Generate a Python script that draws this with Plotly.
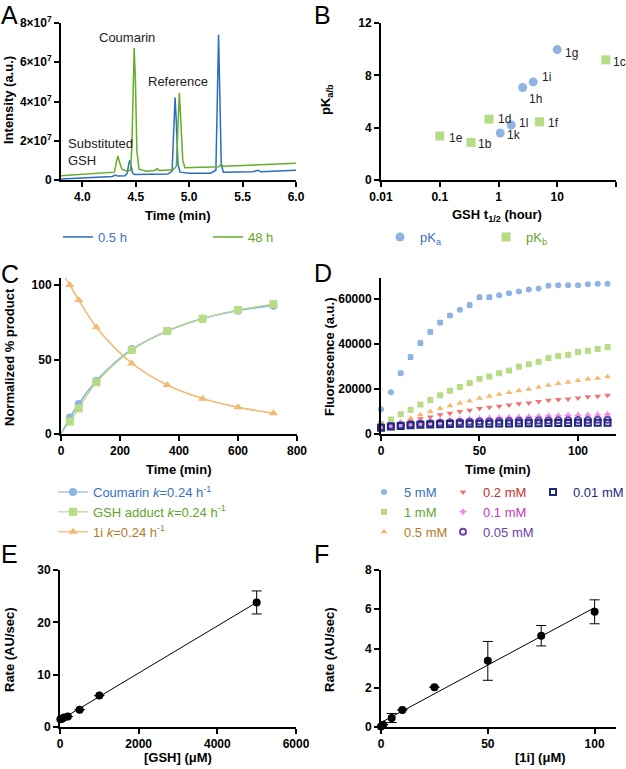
import numpy as np
import plotly.graph_objects as go

W, H = 626, 769
FONT = "Liberation Sans, Arial, sans-serif"

# ---------------- DATA ----------------
# Panel A: chromatograms (time in min, intensity in a.u.)
a_time_05h = [3.80, 4.00, 4.20, 4.28, 4.31, 4.33, 4.40, 4.42, 4.435, 4.445, 4.455, 4.47, 4.49, 4.60, 4.80, 4.84,
              4.855, 4.868, 4.88, 4.895, 4.915, 5.00, 5.20, 5.25, 5.263, 5.275, 5.287, 5.30, 5.32, 5.60, 5.64, 5.67, 6.00]
a_int_05h = [0.05e7, 0.10e7, 0.15e7, 0.18e7, 0.25e7, 0.20e7, 0.22e7, 0.35e7, 0.85e7, 1.00e7, 0.75e7, 0.35e7, 0.28e7,
             0.28e7, 0.30e7, 0.45e7, 2.6e7, 4.2e7, 2.9e7, 0.8e7, 0.40e7, 0.35e7, 0.35e7, 0.50e7, 4.0e7, 7.4e7, 4.3e7,
             0.8e7, 0.40e7, 0.42e7, 0.50e7, 0.42e7, 0.50e7]
a_time_48h = [3.80, 4.00, 4.20, 4.30, 4.318, 4.333, 4.348, 4.37, 4.42, 4.45, 4.463, 4.475, 4.485, 4.497, 4.51, 4.53,
              4.60, 4.68, 4.70, 4.72, 4.85, 4.88, 4.895, 4.908, 4.922, 4.94, 4.96, 5.20, 5.28, 5.30, 5.32, 6.00]
a_int_48h = [0.22e7, 0.28e7, 0.34e7, 0.40e7, 0.90e7, 1.22e7, 0.90e7, 0.55e7, 0.45e7, 0.50e7, 1.6e7, 4.6e7, 6.73e7,
             5.0e7, 1.5e7, 0.55e7, 0.45e7, 0.48e7, 0.58e7, 0.48e7, 0.52e7, 0.70e7, 2.8e7, 4.44e7, 3.0e7, 1.0e7,
             0.62e7, 0.65e7, 0.68e7, 0.80e7, 0.70e7, 0.85e7]
a_peak_labels = ["Coumarin", "Reference", "1i", "Substituted<br>GSH"]
a_peak_label_x = [4.418, 4.895, 5.288, 3.847]
a_peak_label_y = [7.24e7, 5.04e7, 8.05e7, 1.43e7]
a_ytick_vals = [0, 2e7, 4e7, 6e7, 8e7]
a_ytick_text = ["0", "2×10<sup>7</sup>", "4×10<sup>7</sup>", "6×10<sup>7</sup>", "8×10<sup>7</sup>"]

# Panel B: GSH half-life (hour) vs pKa / pKb
b_pka_names = ["1g", "1i", "1h", "1l", "1k"]
b_pka_t12 = [10.0, 3.9, 2.58, 1.65, 1.07]
b_pka_val = [9.97, 7.5, 7.07, 4.2, 3.59]
b_pkb_names = ["1c", "1f", "1d", "1e", "1b"]
b_pkb_t12 = [67.0, 5.0, 0.69, 0.10, 0.34]
b_pkb_val = [9.18, 4.45, 4.65, 3.36, 2.87]

# Panel C: normalized % product vs time (min)
c_time = [30, 60, 120, 240, 360, 480, 600, 720]
c_coumarin = [11.0, 20.1, 35.8, 57.0, 69.1, 77.4, 82.8, 86.1]
c_adduct = [8.3, 17.2, 34.7, 56.4, 69.1, 77.4, 83.2, 87.2]
c_1i = [100.0, 90.0, 71.6, 47.4, 32.9, 23.7, 17.9, 13.9]
# fitted curves
c_fit_time = [0, 30, 60, 120, 240, 360, 480, 600, 720]
c_fit_coumarin = [0.0, 11.2, 20.5, 35.8, 56.6, 69.0, 77.4, 82.9, 86.3]
c_fit_adduct = [0.0, 9.0, 17.8, 34.6, 56.2, 69.2, 77.6, 83.2, 86.8]
c_fit_1i_time = [13, 30, 60, 120, 240, 360, 480, 600, 720]
c_fit_1i = [105.0, 100.0, 89.8, 71.8, 47.6, 32.8, 23.8, 18.0, 14.0]

# Panel D: fluorescence vs time for GSH concentrations
d_time = [0, 5, 10, 15, 20, 25, 30, 35, 40, 45, 50, 55, 60, 65, 70, 75, 80, 85, 90, 95, 100, 105, 110, 115]
d_5mM = [11000, 18600, 27000, 34200, 40400, 45400, 49500, 52600, 55200, 57200, 60700, 60700, 61600, 62500,
         63300, 64200, 64600, 65900, 66100, 66100, 66100, 66500, 66800, 66700]
d_5mM_err = [0, 0, 800, 900, 900, 900, 900, 800, 300, 900, 900, 900, 300, 300, 300, 300, 300, 300, 300, 300,
             300, 300, 300, 300]
d_1mM = [4500, 6500, 8800, 10700, 13100, 15100, 17200, 19200, 20900, 22600, 24500, 25500, 27000, 28200, 29900,
         31000, 32100, 33700, 34600, 35200, 36400, 37000, 37700, 38600]
d_1mM_err = [0, 0, 0, 0, 0, 0, 0, 0, 0, 0, 300, 300, 300, 300, 300, 300, 800, 300, 300, 800, 900, 900, 900, 1000]
d_05mM = [3300, 4000, 5500, 7000, 8500, 10000, 11300, 12600, 13700, 14700, 15900, 16800, 17700, 18400, 19200,
          19900, 20800, 21700, 22400, 23000, 23800, 24400, 24800, 25400]
d_02mM = [3000, 3600, 4800, 5800, 6800, 7600, 8500, 9200, 10000, 10500, 11300, 11900, 12300, 12900, 13400,
          13800, 14400, 15000, 15300, 15600, 16000, 16500, 16800, 17200]
d_01mM = [3000, 3600, 4200, 4700, 5100, 5500, 5800, 6100, 6300, 6600, 6800, 7000, 7200, 7400, 7500, 7700,
          7800, 8000, 8100, 8200, 8300, 8400, 8500, 8700]
d_005mM = [3000, 3500, 3900, 4300, 4600, 4800, 5000, 5100, 5300, 5400, 5500, 5600, 5700, 5800, 5900, 5900,
           6000, 6000, 6100, 6100, 6200, 6200, 6300, 6300]
d_001mM = [2800, 3300, 3600, 3900, 4100, 4200, 4300, 4400, 4500, 4500, 4600, 4600, 4700, 4700, 4800, 4800,
           4800, 4900, 4900, 4900, 5000, 5000, 5000, 5000]

# Panel E: rate vs [GSH] (uM)
e_gsh = [10, 50, 100, 200, 500, 1000, 5000]
e_rate = [1.5, 1.6, 1.8, 2.0, 3.3, 6.0, 23.8]
e_err = [0, 0, 0, 0, 0, 0, 2.2]

# Panel F: rate vs [1i] (uM)
f_conc = [0, 1, 5, 10, 25, 50, 75, 100]
f_rate = [0.03, 0.12, 0.46, 0.87, 2.03, 3.37, 4.65, 5.87]
f_err = [0, 0, 0.23, 0, 0, 0.99, 0.52, 0.61]

# ---------------- STYLES ----------------
BLUE_DK = "#2b6dc0"
GREEN_DK = "#66ad2a"
BLUE_LT = "#8fb4e3"
GREEN_LT = "#b6dd86"
ORANGE_LT = "#f4b870"
RED_LT = "#f07272"
PINK_LT = "#f08ce8"
PURPLE = "#6f45b2"
NAVY = "#1f2a7c"
TXT_BLUE = "#3a70c0"
TXT_GREEN = "#5fa52a"
TXT_BROWN = "#b57a25"
TXT_RED = "#cc2c2c"
TXT_MAG = "#c23ac2"
TXT_PURPLE = "#6a3fae"
TXT_NAVY = "#1f2a80"


def col(c, s):
    return f'<span style="color:{c}">{s}</span>'


fig = go.Figure()


def dom_x(a, b):
    return [a / W, b / W]


def dom_y(top, bottom):
    return [1 - bottom / H, 1 - top / H]


def axis(**kw):
    base = dict(showline=True, linecolor="black", linewidth=2, ticks="outside", ticklen=5, tickwidth=2,
                tickcolor="black", showgrid=False, zeroline=False, mirror=False, automargin=False,
                tickfont=dict(family=FONT, size=12, color="black", weight="bold"))
    base.update(kw)
    return base


# ----- Panel A -----
fig.add_trace(go.Scatter(x=a_time_05h, y=a_int_05h, mode="lines", line=dict(color=BLUE_DK, width=1.5),
                         name=col(TXT_BLUE, "0.5 h"), legend="legend", xaxis="x", yaxis="y"))
fig.add_trace(go.Scatter(x=a_time_48h, y=a_int_48h, mode="lines", line=dict(color=GREEN_DK, width=1.5),
                         name=col(TXT_GREEN, "48 h"), legend="legend2", xaxis="x", yaxis="y"))

# ----- Panel B -----
fig.add_trace(go.Scatter(x=b_pka_t12, y=b_pka_val, mode="markers",
                         marker=dict(symbol="circle", size=9, color=BLUE_LT),
                         name=col(TXT_BLUE, "pK<sub>a</sub>"), legend="legend3", xaxis="x2", yaxis="y2"))
fig.add_trace(go.Scatter(x=b_pkb_t12, y=b_pkb_val, mode="markers",
                         marker=dict(symbol="square", size=9, color=GREEN_LT),
                         name=col(TXT_GREEN, "pK<sub>b</sub>"), legend="legend4", xaxis="x2", yaxis="y2"))

# ----- Panel C -----
fig.add_trace(go.Scatter(x=c_fit_1i_time, y=c_fit_1i, mode="lines", line=dict(color=ORANGE_LT, width=1.2, shape="spline"),
                         showlegend=False, xaxis="x3", yaxis="y3", cliponaxis=False))
fig.add_trace(go.Scatter(x=c_fit_time, y=c_fit_adduct, mode="lines", line=dict(color=GREEN_LT, width=1.2, shape="spline"),
                         showlegend=False, xaxis="x3", yaxis="y3"))
fig.add_trace(go.Scatter(x=c_fit_time, y=c_fit_coumarin, mode="lines", line=dict(color=BLUE_LT, width=1.2, shape="spline"),
                         showlegend=False, xaxis="x3", yaxis="y3"))
fig.add_trace(go.Scatter(x=c_time, y=c_coumarin, mode="lines+markers",
                         line=dict(color=BLUE_LT, width=1.2, shape="spline"),
                         marker=dict(symbol="circle", size=8, color=BLUE_LT),
                         name=col(TXT_BLUE, "Coumarin <i>k</i>=0.24 h<sup>-1</sup>"), legend="legend5",
                         xaxis="x3", yaxis="y3"))
fig.add_trace(go.Scatter(x=c_time, y=c_adduct, mode="lines+markers",
                         line=dict(color=GREEN_LT, width=1.2, shape="spline"),
                         marker=dict(symbol="square", size=8, color=GREEN_LT),
                         name=col(TXT_GREEN, "GSH adduct <i>k</i>=0.24 h<sup>-1</sup>"), legend="legend5",
                         xaxis="x3", yaxis="y3"))
fig.add_trace(go.Scatter(x=c_time, y=c_1i, mode="lines+markers",
                         line=dict(color=ORANGE_LT, width=1.2, shape="spline"),
                         marker=dict(symbol="triangle-up", size=8, color=ORANGE_LT),
                         name=col(TXT_BROWN, "1i <i>k</i>=0.24 h<sup>-1</sup>"), legend="legend5",
                         xaxis="x3", yaxis="y3"))

# ----- Panel D -----
d_series = [
    (d_5mM, d_5mM_err, "circle", BLUE_LT, "#4a78c8", TXT_BLUE, "5 mM", "legend6"),
    (d_1mM, d_1mM_err, "square", GREEN_LT, "#6aa83a", TXT_GREEN, "1 mM", "legend6"),
    (d_05mM, None, "triangle-up", ORANGE_LT, ORANGE_LT, TXT_BROWN, "0.5 mM", "legend6"),
    (d_02mM, None, "triangle-down", RED_LT, RED_LT, TXT_RED, "0.2 mM", "legend7"),
    (d_01mM, None, "star-diamond", PINK_LT, PINK_LT, TXT_MAG, "0.1 mM", "legend7"),
    (d_005mM, None, "circle-open", PURPLE, PURPLE, TXT_PURPLE, "0.05 mM", "legend7"),
    (d_001mM, None, "square-open", NAVY, NAVY, TXT_NAVY, "0.01 mM", "legend8"),
]
for vals, err, sym, mc, ec, tc, nm, lg in d_series:
    mk = dict(symbol=sym, size=6, color=mc)
    if sym.endswith("open"):
        mk["line"] = dict(width=2, color=mc)
    tr = dict(x=d_time, y=vals, mode="markers", marker=mk, name=col(tc, nm), legend=lg,
              xaxis="x4", yaxis="y4", cliponaxis=False)
    if err is not None:
        tr["error_y"] = dict(type="data", array=err, color=ec, thickness=1.2, width=2.5)
    fig.add_trace(go.Scatter(**tr))

# ----- Panel E -----
e_fit = np.polyfit(e_gsh, e_rate, 1)
e_line_x = [0, max(e_gsh)]
fig.add_trace(go.Scatter(x=e_line_x, y=np.polyval(e_fit, e_line_x), mode="lines",
                         line=dict(color="black", width=1), showlegend=False, xaxis="x5", yaxis="y5"))
fig.add_trace(go.Scatter(x=e_gsh, y=e_rate, mode="markers", marker=dict(size=8, color="black"),
                         error_y=dict(type="data", array=e_err, color="black", thickness=1, width=5),
                         showlegend=False, xaxis="x5", yaxis="y5", cliponaxis=False))

# ----- Panel F -----
f_fit = np.polyfit(f_conc, f_rate, 1)
f_line_x = [0, max(f_conc)]
fig.add_trace(go.Scatter(x=f_line_x, y=np.polyval(f_fit, f_line_x), mode="lines",
                         line=dict(color="black", width=1), showlegend=False, xaxis="x6", yaxis="y6"))
fig.add_trace(go.Scatter(x=f_conc, y=f_rate, mode="markers", marker=dict(size=8, color="black"),
                         error_y=dict(type="data", array=f_err, color="black", thickness=1, width=5),
                         showlegend=False, xaxis="x6", yaxis="y6", cliponaxis=False))

# ---------------- ANNOTATIONS ----------------
ann = []
for t, x, y in zip(a_peak_labels, a_peak_label_x, a_peak_label_y):
    ann.append(dict(text=t, x=x, y=y, xref="x", yref="y", showarrow=False,
                    xanchor="left" if "GSH" in t else "center", align="left",
                    font=dict(family=FONT, size=13, color="#222")))

b_shifts = {"1g": (6, -3), "1i": (7, 5), "1h": (4, -11), "1l": (6, 2), "1k": (5, -2),
            "1c": (5, -2), "1f": (6, -1), "1d": (7, 0), "1e": (7, -2), "1b": (5, -2)}
for names, ts, vs in [(b_pka_names, b_pka_t12, b_pka_val), (b_pkb_names, b_pkb_t12, b_pkb_val)]:
    for n, t, v in zip(names, ts, vs):
        sx, sy = b_shifts[n]
        ann.append(dict(text=n, x=np.log10(t), y=v, xref="x2", yref="y2", showarrow=False,
                        xanchor="left", yanchor="middle", xshift=sx, yshift=sy,
                        font=dict(family=FONT, size=12, color="#222")))

# panel letters (left edge, top edge in pixels)
for letter, lx, ty in [("A", 0, 0), ("B", 313, 0), ("C", 0, 259), ("D", 313, 258), ("E", 0, 539), ("F", 313, 539)]:
    ann.append(dict(text=letter, x=lx / W, y=1 - ty / H, xref="paper", yref="paper", showarrow=False,
                    xanchor="left", yanchor="top", borderpad=0,
                    font=dict(family=FONT, size=25, color="black")))

# axis titles (centre positions in pixels)
axis_titles = [
    ("Time (min)", 178, 215, 0), ("Intensity (a.u.)", 8, 100, -90),
    ("GSH t<sub>1/2</sub> (hour)", 497, 215, 0), ("pK<sub>a/b</sub>", 326, 100, -90),
    ("Time (min)", 179, 469, 0), ("Normalized % product", 9, 357, -90),
    ("Time (min)", 498, 469, 0), ("Fluorescence (a.u.)", 329, 357, -90),
    ("[GSH] (μM)", 178, 757, 0), ("Rate (AU/sec)", 9, 650, -90),
    ("[1i] (μM)", 540, 757, 0), ("Rate (AU/sec)", 329, 650, -90),
]
for t, cx, cy, ang in axis_titles:
    ann.append(dict(text=t, x=cx / W, y=1 - cy / H, xref="paper", yref="paper", showarrow=False,
                    xanchor="center", yanchor="middle", textangle=ang,
                    font=dict(family=FONT, size=13, color="black", weight="bold")))

# ---------------- LAYOUT ----------------
def leg(x, ytop):
    return dict(x=x / W, y=1 - ytop / H, xanchor="left", yanchor="top", bgcolor="rgba(0,0,0,0)",
                borderwidth=0, font=dict(family=FONT, size=13), orientation="v", tracegroupgap=0,
                itemclick=False, itemdoubleclick=False)


fig.update_layout(
    width=W, height=H, margin=dict(l=0, r=0, t=0, b=0, autoexpand=False),
    paper_bgcolor="white", plot_bgcolor="white",
    font=dict(family=FONT, color="black"),
    annotations=ann,
    xaxis=axis(domain=dom_x(61, 296), range=[3.8, 6.0], tickvals=[4.0, 4.5, 5.0, 5.5, 6.0],
               tickformat=".1f", anchor="y"),
    yaxis=axis(domain=dom_y(23, 180), range=[0, 8e7], tickvals=a_ytick_vals, ticktext=a_ytick_text,
               anchor="x"),
    xaxis2=axis(domain=dom_x(381, 616), type="log", range=[-2, 2], tickvals=[0.01, 0.1, 1, 10, 100],
                ticktext=["0.01", "0.1", "1", "10", "100"], anchor="y2"),
    yaxis2=axis(domain=dom_y(23, 180), range=[0, 12], tickvals=[0, 4, 8, 12], anchor="x2"),
    xaxis3=axis(domain=dom_x(61, 297), range=[0, 800], tickvals=[0, 200, 400, 600, 800], anchor="y3"),
    yaxis3=axis(domain=dom_y(278, 434), range=[0, 104.7], tickvals=[0, 50, 100], anchor="x3"),
    xaxis4=axis(domain=dom_x(381, 616), range=[0, 119.3], tickvals=[0, 50, 100], anchor="y4"),
    yaxis4=axis(domain=dom_y(278, 434), range=[0, 69300], tickvals=[0, 20000, 40000, 60000],
                tickformat="d", anchor="x4"),
    xaxis5=axis(domain=dom_x(60, 296), range=[0, 6000], tickvals=[0, 2000, 4000, 6000], tickformat="d",
                anchor="y5"),
    yaxis5=axis(domain=dom_y(570, 727), range=[0, 30], tickvals=[0, 10, 20, 30], anchor="x5"),
    xaxis6=axis(domain=dom_x(381, 616), range=[0, 110], tickvals=[0, 50, 100], anchor="y6"),
    yaxis6=axis(domain=dom_y(570, 727), range=[0, 8], tickvals=[0, 2, 4, 6, 8], anchor="x6"),
    legend=leg(58, 222),
    legend2=leg(208, 222),
    legend3=leg(380, 222),
    legend4=leg(486, 222),
    legend5=leg(53, 477),
    legend6=leg(364, 477),
    legend7=leg(443, 477),
    legend8=leg(533, 477),
)

fig.write_html("out.html", config={"displayModeBar": False},
               post_script="document.body.style.margin='0';document.body.style.padding='0';")
